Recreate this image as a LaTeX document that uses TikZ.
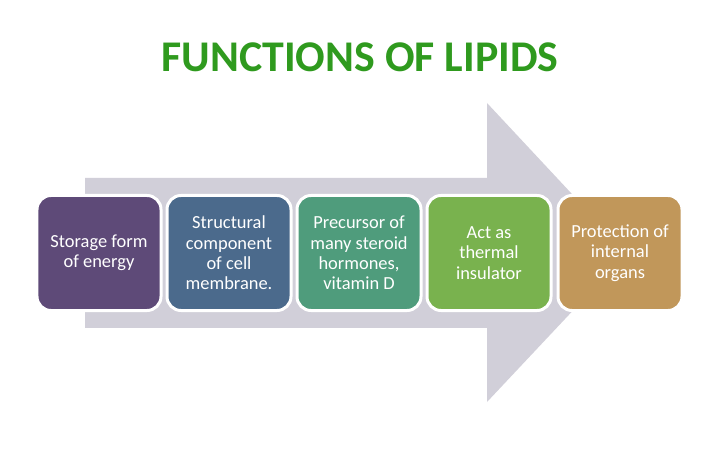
\documentclass[tikz,border=0pt]{standalone}
\usepackage{fontspec}
\setmainfont{Carlito}
\definecolor{arrowgray}{HTML}{D1CFD9}
\definecolor{titlegreen}{HTML}{2F9A1E}
\definecolor{fnpurple}{HTML}{5E4A78}
\definecolor{fnblue}{HTML}{4B6A8C}
\definecolor{fnteal}{HTML}{4F9C7C}
\definecolor{fngreen}{HTML}{79B24E}
\definecolor{fntan}{HTML}{C1975A}
\tikzset{
  fnbox/.style={draw=white, line width=3bp, rounded corners=14bp,
    minimum width=124bp, minimum height=115bp, align=center,
    text=white, font=\fontsize{18.5}{20.5}\selectfont},
}
\begin{document}
\begin{tikzpicture}[x=1bp,y=-1bp]
  \useasboundingbox[fill=white] (0,0) rectangle (720,450);
  % big arrow behind the boxes
  \fill[arrowgray] (85,178) -- (487,178) -- (487,103) -- (627,253)
    -- (487,402) -- (487,328) -- (85,328) -- cycle;
  \node[text=titlegreen, font=\fontsize{44}{44}\selectfont\bfseries] (title) at (360,57) {FUNCTIONS OF LIPIDS};
  \node[fnbox, fill=fnpurple] (storage) at (99,253) {Storage form\\of energy};
  \node[fnbox, fill=fnblue] (structural) at (229,253) {Structural\\component\\of cell\\membrane.};
  \node[fnbox, fill=fnteal] (precursor) at (359,253) {Precursor of\\many steroid\\hormones,\\vitamin D};
  \node[fnbox, fill=fngreen] (insulator) at (489,253) {Act as\\thermal\\insulator};
  \node[fnbox, fill=fntan] (protection) at (620,253) {Protection of\\internal\\organs};
\end{tikzpicture}
\end{document}
